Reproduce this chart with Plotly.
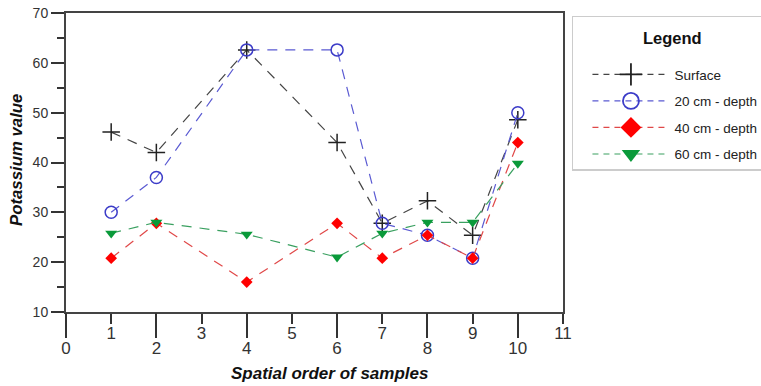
import plotly.graph_objects as go

x_order = [1, 2, 4, 6, 7, 8, 9, 10]
surface = [46.1, 42.0, 62.6, 44.0, 27.8, 32.3, 25.4, 48.6]
depth20 = [30.0, 37.0, 62.6, 62.6, 27.8, 25.4, 20.8, 50.0]
depth40 = [20.8, 27.8, 16.0, 27.8, 20.8, 25.4, 20.8, 44.0]
depth60 = [25.8, 28.0, 25.6, 21.0, 25.8, 28.0, 28.0, 39.8]

names = ["Surface", "20 cm - depth", "40 cm - depth", "60 cm - depth"]
series = [surface, depth20, depth40, depth60]
colors = ["#222222", "#3c3cc8", "#ff0000", "#0a9a3a"]
line_colors = ["#444444", "#5a5ad2", "#e04848", "#3aa060"]
symbols = ["cross-thin", "circle-open", "diamond", "triangle-down"]
sizes = [12.5, 12, 9, 10.5]

x_odd = [1, 3, 5, 7, 9, 11]
x_even = [0, 2, 4, 6, 8, 10]

FONT = "Liberation Sans, Arial, sans-serif"

fig = go.Figure()
for i, (nm, ys) in enumerate(zip(names, series)):
    fig.add_trace(go.Scatter(
        x=x_order, y=ys, name=nm, mode="lines+markers",
        legendgroup=nm, showlegend=False,
        line=dict(color=line_colors[i], width=1.2, dash="10px,8px"),
        marker=dict(symbol=symbols[i], size=sizes[i], color=colors[i],
                    line=dict(color=colors[i], width=1.5 if i < 2 else 0)),
    ))
    # legend entry with larger symbol
    fig.add_trace(go.Scatter(
        x=[None], y=[None], name=nm, mode="lines+markers",
        legendgroup=nm, showlegend=True, hoverinfo="skip",
        line=dict(color=line_colors[i], width=1.2, dash="6px,5px"),
        marker=dict(symbol=symbols[i], size=16, color=colors[i],
                    line=dict(color=colors[i], width=1.8 if i < 2 else 0)),
    ))

fig.update_layout(
    width=761, height=386,
    margin=dict(l=66, r=198, t=13, b=74, autoexpand=False),
    paper_bgcolor="white", plot_bgcolor="white",
    font=dict(family=FONT, color="#222222"),
    showlegend=True,
    legend=dict(
        x=1.018, y=0.99, xanchor="left", yanchor="top",
        bordercolor="#cccccc", borderwidth=1.5,
        font=dict(size=13.5, family=FONT, color="#222222"),
        title=dict(text=" <br> ", side="top center",
                   font=dict(size=16, family=FONT, color="#111111")),
        traceorder="grouped", tracegroupgap=6,
        itemwidth=77, indentation=14, itemsizing="trace",
    ),
    xaxis=dict(
        range=[0, 11], tickmode="array", tickvals=x_odd,
        ticktext=[str(v) for v in x_odd], automargin=False,
        ticks="outside", ticklen=10, tickwidth=1.5, tickcolor="#333333",
        ticklabelstandoff=-5,
        showline=True, linewidth=2, linecolor="#444444", mirror=True,
        showgrid=False, zeroline=False,
        tickfont=dict(size=17, family=FONT, color="#333333"),
    ),
    xaxis2=dict(
        range=[0, 11], overlaying="x", side="bottom", anchor="y",
        tickmode="array", tickvals=x_even, automargin=False,
        ticktext=[str(v) for v in x_even],
        ticks="outside", ticklen=25, tickwidth=1.5, tickcolor="#333333",
        ticklabelstandoff=-4,
        showline=False, showgrid=False, zeroline=False,
        tickfont=dict(size=17, family=FONT, color="#333333"),
    ),
    yaxis=dict(
        range=[10, 70], tickmode="array", tickvals=[10, 20, 30, 40, 50, 60, 70],
        automargin=False,
        ticks="outside", ticklen=13, tickwidth=1.5, tickcolor="#333333",
        minor=dict(tickmode="array", tickvals=[15, 25, 35, 45, 55, 65],
                   ticks="outside", ticklen=7, tickwidth=1.5, tickcolor="#333333"),
        showline=True, linewidth=2, linecolor="#444444", mirror=True,
        showgrid=False, zeroline=False,
        tickfont=dict(size=14, family=FONT, color="#333333"),
    ),
    annotations=[
        dict(text="<b><i>Spatial order of samples</i></b>", xref="paper", yref="paper",
             x=(329.5 - 66) / 497, y=-(373 - 312) / 299, xanchor="center", yanchor="middle",
             showarrow=False, font=dict(size=17, family=FONT, color="#111111")),
        dict(text="<b><i>Potassium value</i></b>", xref="paper", yref="paper",
             x=-(66 - 16) / 497, y=(312 - 160) / 299, xanchor="center", yanchor="middle",
             textangle=-90, showarrow=False,
             font=dict(size=16.8, family=FONT, color="#111111")),
        dict(text="<b>Legend</b>", xref="paper", yref="paper",
             x=(672 - 66) / 497, y=(312 - 38) / 299, xanchor="center", yanchor="middle",
             showarrow=False, font=dict(size=16.5, family=FONT, color="#111111")),
    ],
)
fig.add_trace(go.Scatter(x=[None], y=[None], xaxis="x2", yaxis="y",
                         showlegend=False, hoverinfo="skip"))

fig.write_html("out.html")
